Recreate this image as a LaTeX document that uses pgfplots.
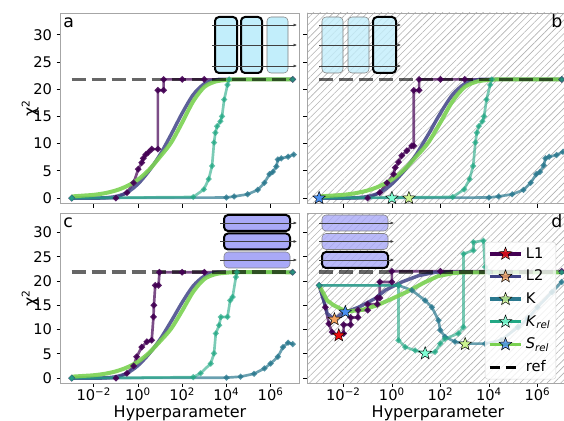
\documentclass[border=0pt]{standalone}
\usepackage{pgfplots}
\pgfplotsset{compat=1.18}
\usepackage{fontspec}
\setmainfont{DejaVu Sans}
\usetikzlibrary{patterns.meta, arrows.meta}

\definecolor{cL1}{HTML}{440154}
\definecolor{cL2}{HTML}{414487}
\definecolor{cK}{HTML}{2A788E}
\definecolor{cKr}{HTML}{22A884}
\definecolor{cSr}{HTML}{7AD151}
\definecolor{sRed}{HTML}{F01010}
\definecolor{sOrange}{HTML}{F4A460}
\definecolor{sLime}{HTML}{CCF590}
\definecolor{sAqua}{HTML}{7FFFD4}
\definecolor{sBlue}{HTML}{4A8FF0}
\definecolor{icy}{HTML}{C2EEFB}
\definecolor{lav}{HTML}{A9A9F7}

\pgfdeclareplotmark{fstar}{%
  \pgfpathmoveto{\pgfpointpolar{90}{\pgfplotmarksize}}%
  \pgfpathlineto{\pgfpointpolar{126}{0.42\pgfplotmarksize}}%
  \pgfpathlineto{\pgfpointpolar{162}{\pgfplotmarksize}}%
  \pgfpathlineto{\pgfpointpolar{198}{0.42\pgfplotmarksize}}%
  \pgfpathlineto{\pgfpointpolar{234}{\pgfplotmarksize}}%
  \pgfpathlineto{\pgfpointpolar{270}{0.42\pgfplotmarksize}}%
  \pgfpathlineto{\pgfpointpolar{306}{\pgfplotmarksize}}%
  \pgfpathlineto{\pgfpointpolar{342}{0.42\pgfplotmarksize}}%
  \pgfpathlineto{\pgfpointpolar{18}{\pgfplotmarksize}}%
  \pgfpathlineto{\pgfpointpolar{54}{0.42\pgfplotmarksize}}%
  \pgfpathclose\pgfusepathqfillstroke}

\pgfplotsset{
  panel/.style={scale only axis, anchor=south west,
    xmin=-3.5, xmax=7.3, ymin=-1, ymax=34,
    axis line style={draw=gray!70, line width=0.6pt},
    tick style={black, line width=0.6pt}, tick align=outside,
    major tick length=3pt,
    xtick={-2,0,2,4,6}, ytick={0,5,...,30},
    xtick pos=bottom, ytick pos=left,
    tick label style={font=\fontsize{11}{13}\selectfont},
    xticklabel style={yshift=3pt},
    label style={font=\fontsize{12}{14}\selectfont},
    xlabel style={yshift=3pt},
    ylabel shift=-11pt,
    /pgf/number format/assume math mode=true},
  hatched/.style={axis background/.style={pattern={Lines[angle=45,distance=3.6pt,line width=0.45pt]}, pattern color=gray!60}},
  sL1/.style={cL1, line width=2pt, draw opacity=0.7, mark=*, mark size=1.2pt, mark options={solid, draw opacity=0.9, fill opacity=0.9}},
  sL2/.style={cL2, line width=2.6pt, draw opacity=0.85},
  sK/.style={cK, line width=2pt, draw opacity=0.7, mark=*, mark size=1pt, mark options={solid, draw opacity=0.8, fill opacity=0.8}},
  sKr/.style={cKr, line width=2pt, draw opacity=0.6, mark=*, mark size=1pt, mark options={solid, draw opacity=0.7, fill opacity=0.7}},
  sSr/.style={cSr, line width=3pt, draw opacity=0.9},
  sRef/.style={black, draw opacity=0.6, line width=2.8pt, dash pattern=on 10.5pt off 4.5pt},
  star/.style={only marks, mark=fstar, mark size=5pt, mark options={draw=black, line width=0.35pt, fill=#1}},
  xlab/.style={xticklabels={10\textsuperscript{−2},10\textsuperscript{0},10\textsuperscript{2},10\textsuperscript{4},10\textsuperscript{6}}, xlabel={Hyperparameter}},
}

\begin{document}
\begin{tikzpicture}
\useasboundingbox (0,0) rectangle (423pt,315.75pt);
\clip (0,0) rectangle (423pt,315.75pt);

% ---------- panel a ----------
\begin{axis}[panel, at={(45.5pt,163.1pt)}, width=179pt, height=142.9pt,
  xticklabels={}, ylabel={χ\textsuperscript{2}}]
\addplot[sL1] coordinates {(-3,0) (-1,0) (-0.5,1.0) (-0.2,2.8) (0.01,5.3) (0.17,6.5) (0.24,7.3) (0.35,8.0) (0.47,8.4) (0.62,9.0) (0.9,9.0) (0.9,19.8) (1.16,19.8) (1.16,21.8) (2,21.8) (3,21.8) (7,21.8)};
\addplot[sL2, smooth, tension=0.5] coordinates {(-3,0) (-2,0) (-1.5,0.05) (-1,0.3) (-0.5,1.0) (0,2.6) (0.5,5.0) (1,8.0) (1.5,11.7) (2,15.6) (2.5,19.0) (3,21.0) (3.5,21.7) (4,21.8) (7,21.8)};
\addplot[sK] coordinates {(-3,0) (4,0.1) (4.35,0.3) (4.96,0.7) (5.42,1.5) (5.72,2.8) (5.95,4.4) (6.1,4.8) (6.26,5.8) (6.33,7.1) (6.48,7.3) (6.79,7.6) (7.05,8.0)};
\addplot[sKr] coordinates {(-3,0) (2.5,0.2) (2.98,1.6) (3.2,3.5) (3.35,5.9) (3.44,10.2) (3.5,12) (3.58,13.2) (3.73,14.1) (3.8,15) (3.9,18.1) (4.05,20.8) (4.12,21.8) (7,21.8)};
\addplot[sSr, smooth, tension=0.5] coordinates {(-3,0.3) (-2.5,0.45) (-2,0.6) (-1.5,0.9) (-1,1.4) (-0.5,2.2) (0,3.4) (0.5,5.2) (1,7.6) (1.5,10.2) (2,13.9) (2.5,17.8) (3,20.4) (3.5,21.4) (4,21.7) (4.5,21.8) (7,21.8)};
\addplot[sRef] coordinates {(-3,21.8) (7,21.8)};
\end{axis}

% ---------- panel b ----------
\begin{axis}[panel, hatched, at={(230.25pt,163.1pt)}, width=196.5pt, height=142.9pt,
  xticklabels={}, yticklabels={}]
\addplot[sL1] coordinates {(-3,0) (-1,0) (-0.5,1.0) (-0.2,2.8) (0.07,4.4) (0.14,5.6) (0.27,6.6) (0.41,7.8) (0.62,8.7) (0.82,9.6) (0.9,9.6) (0.9,19.8) (1.12,19.8) (1.12,21.8) (2,21.8) (3,21.8) (7,21.8)};
\addplot[sL2, smooth, tension=0.5] coordinates {(-3,0) (-2,0) (-1.5,0.05) (-1,0.3) (-0.5,1.0) (0,2.6) (0.5,5.0) (1,8.0) (1.5,11.7) (2,15.6) (2.5,19.0) (3,21.0) (3.5,21.7) (4,21.8) (7,21.8)};
\addplot[sK] coordinates {(-3,0) (4,0.1) (4.4,0.3) (4.96,0.7) (5.42,1.5) (5.72,2.8) (5.95,4.4) (6.1,4.8) (6.26,6.0) (6.33,7.3) (6.48,7.6) (6.79,7.9) (7.05,8.5)};
\addplot[sKr] coordinates {(-3,0) (2.5,0.2) (2.98,1.6) (3.2,3.5) (3.35,5.9) (3.44,10.2) (3.5,12) (3.58,13.2) (3.73,14.1) (3.8,15) (3.9,18.1) (4.05,20.8) (4.12,21.8) (7,21.8)};
\addplot[sSr, smooth, tension=0.5] coordinates {(-3,0.3) (-2.5,0.45) (-2,0.6) (-1.5,0.9) (-1,1.4) (-0.5,2.2) (0,3.4) (0.5,5.2) (1,7.6) (1.5,10.2) (2,13.9) (2.5,17.8) (3,20.4) (3.5,21.4) (4,21.7) (4.5,21.8) (7,21.8)};
\addplot[sRef] coordinates {(-3,21.8) (7.3,21.8)};
\addplot[star=sBlue] coordinates {(-3,0)};
\addplot[star=sAqua] coordinates {(0,0)};
\addplot[star=sLime] coordinates {(0.7,0)};
\end{axis}

% ---------- panel c ----------
\begin{axis}[panel, at={(45.5pt,28.5pt)}, width=179pt, height=127.5pt,
  xlab, ylabel={χ\textsuperscript{2}}]
\addplot[sL1] coordinates {(-3,0) (-1,0) (-0.5,1.0) (-0.2,2.5) (-0.06,4.4) (0.17,6.4) (0.4,7.5) (0.62,7.8) (0.7,12.6) (0.72,15) (0.78,19.1) (0.93,19.1) (0.97,21.8) (2,21.8) (3,21.8) (7,21.8)};
\addplot[sL2, smooth, tension=0.5] coordinates {(-3,0) (-2,0) (-1.5,0.05) (-1,0.3) (-0.5,1.0) (0,2.6) (0.5,5.0) (1,8.0) (1.5,11.7) (2,15.6) (2.5,19.0) (3,21.0) (3.5,21.7) (4,21.8) (7,21.8)};
\addplot[sK] coordinates {(-3,0) (4,0.1) (4.64,0.3) (5.25,0.9) (5.72,2) (6.0,3) (6.33,4.4) (6.56,6.4) (6.79,7.3) (7.0,7.0)};
\addplot[sKr] coordinates {(-3,0) (2.5,0.2) (2.83,1.0) (3.29,3.0) (3.44,5.1) (3.52,9.2) (3.67,10.9) (3.75,12.6) (4.05,12.6) (4.17,16) (4.28,16.7) (4.43,20.8) (4.47,21.8) (7,21.8)};
\addplot[sSr, smooth, tension=0.5] coordinates {(-3,0.3) (-2.5,0.45) (-2,0.6) (-1.5,0.9) (-1,1.4) (-0.5,2.2) (0,3.4) (0.5,5.2) (1,7.6) (1.5,10.2) (2,13.9) (2.5,17.8) (3,20.4) (3.5,21.4) (4,21.7) (4.5,21.8) (7,21.8)};
\addplot[sRef] coordinates {(-3,21.8) (7,21.8)};
\end{axis}

% ---------- panel d ----------
\begin{axis}[panel, hatched, at={(230.25pt,28.5pt)}, width=196.5pt, height=127.5pt,
  xlab, yticklabels={},
  legend style={at={(0.679,0.83)}, anchor=north west, font=\fontsize{11}{13}\selectfont,
    draw=gray!30, rounded corners=2pt, fill=white, fill opacity=0.8, text opacity=1,
    row sep=3.4pt, inner sep=2pt, cells={anchor=west}},
  legend image code/.code={\draw[#1, mark repeat=2, mark phase=2] plot coordinates {(0cm,0cm) (0.42cm,0cm) (0.84cm,0cm)};}]
\addplot[sL1, forget plot] coordinates {(-3,19.1) (-2.74,14.6) (-2.6,11.2) (-2.47,9.5) (-2.19,8.8) (-1.99,9.2) (-1.99,11) (-1.7,11) (-1.7,12.5) (-1.4,12.5) (-1.4,14) (-1.0,14) (-1.0,15.2) (-0.6,15.2) (-0.6,16.5) (-0.5,16.5) (-0.5,19.8) (0,19.8) (0,22) (2,22) (7,22)};
\addplot[sL2, forget plot] coordinates {(-3,19.1) (-2.81,16) (-2.67,13.3) (-2.37,12.1) (-2.06,13.3) (-1.37,14.6) (-0.69,16.4) (-0.27,18.1) (0.41,19.8) (1.1,21.1) (1.78,21.8) (7,21.8)};
\addplot[sK, forget plot] coordinates {(-3,19.1) (0.27,19.1) (0.82,18.1) (1.37,16) (1.65,14.6) (1.92,11.9) (1.99,9.9) (2.19,8.5) (2.6,7.5) (3.02,7.1) (3.84,7.1) (4.5,7.8) (5.2,10.5) (5.6,12.3) (6.0,14.6) (6.6,17.7) (7.0,19.8)};
\addplot[sKr, forget plot] coordinates {(-3,19.1) (0.27,19.1) (0.27,7.8) (0.55,6.4) (0.96,5.7) (1.37,5.2) (1.78,5.4) (1.99,7.1) (2.19,8.1) (2.74,9.2) (2.95,10.5) (2.95,25.6) (3.36,26.3) (3.36,28) (3.77,28.3) (3.84,22.9) (4.0,21.8) (7,21.8)};
\addplot[sSr, forget plot] coordinates {(-3,19.1) (-2.67,16.0) (-2.4,15.0) (-2.12,14.3) (-1.92,13.8) (-1.71,13.8) (-1.18,14.1) (-0.61,15.0) (-0.06,16.2) (0.63,17.8) (1.3,19.6) (1.9,21.0) (2.5,21.6) (3,21.8) (7,21.8)};
\addplot[sRef, forget plot] coordinates {(-3,21.8) (7.3,21.8)};
\addplot[star=sRed, forget plot] coordinates {(-2.19,8.8)};
\addplot[star=sOrange, forget plot] coordinates {(-2.37,12.1)};
\addplot[star=sLime, forget plot] coordinates {(3.02,7.0)};
\addplot[star=sAqua, forget plot] coordinates {(1.37,5.1)};
\addplot[star=sBlue, forget plot] coordinates {(-1.92,13.6)};
\addlegendimage{cL1, line width=2.6pt, mark=fstar, mark size=5pt, mark options={draw=black, line width=0.35pt, fill=sRed}}
\addlegendentry{L1}
\addlegendimage{cL2, line width=2.6pt, mark=fstar, mark size=5pt, mark options={draw=black, line width=0.35pt, fill=sOrange}}
\addlegendentry{L2}
\addlegendimage{cK, line width=2.6pt, mark=fstar, mark size=5pt, mark options={draw=black, line width=0.35pt, fill=sLime}}
\addlegendentry{K}
\addlegendimage{cKr, line width=2.6pt, mark=fstar, mark size=5pt, mark options={draw=black, line width=0.35pt, fill=sAqua}}
\addlegendentry{\textit{K}\textsubscript{\textit{rel}}}
\addlegendimage{cSr, line width=2.6pt, mark=fstar, mark size=5pt, mark options={draw=black, line width=0.35pt, fill=sBlue}}
\addlegendentry{\textit{S}\textsubscript{\textit{rel}}}
\addlegendimage{black, line width=2.6pt, dash pattern=on 8pt off 4pt}
\addlegendentry{ref}
\end{axis}

% ---------- icons and panel letters (pixel coordinates) ----------
\begin{scope}[x=0.75pt, y=-0.75pt, yshift=315.75pt]
  % a
  \filldraw[fill=icy, draw=black, line width=1.5pt, rounded corners=3pt] (215,17) rectangle (237,73);
  \filldraw[fill=icy, draw=black, line width=1.5pt, rounded corners=3pt] (241,17) rectangle (262,73);
  \filldraw[fill=icy, draw=gray, line width=0.4pt, rounded corners=3pt] (267,17) rectangle (288,73);
  \foreach \yy in {25,45,66} \draw[black!75, line width=0.4pt, -{Latex[length=2.5pt,width=2.2pt]}] (212,\yy) -- (297,\yy);
  % b
  \filldraw[fill=icy, fill opacity=0.8, draw=gray, line width=0.4pt, rounded corners=3pt] (322,17) rectangle (343,73);
  \filldraw[fill=icy, fill opacity=0.8, draw=gray, line width=0.4pt, rounded corners=3pt] (348,17) rectangle (369,73);
  \filldraw[fill=icy, fill opacity=0.8, draw=black, line width=1.5pt, rounded corners=3pt] (373,17) rectangle (396,73);
  \foreach \yy in {25,45,66} \draw[black!75, line width=0.4pt, -{Latex[length=2.5pt,width=2.2pt]}] (319,\yy) -- (401,\yy);
  % c
  \filldraw[fill=lav, draw=black, line width=1.5pt, rounded corners=3pt] (224,215) rectangle (290,231);
  \filldraw[fill=lav, draw=black, line width=1.5pt, rounded corners=3pt] (224,233.5) rectangle (290,249.5);
  \filldraw[fill=lav, draw=gray, line width=0.4pt, rounded corners=3pt] (224,252) rectangle (290,268);
  \foreach \yy in {223,241.5,260} \draw[black!75, line width=0.4pt, -{Latex[length=2.5pt,width=2.2pt]}] (220,\yy) -- (297,\yy);
  % d
  \filldraw[fill=lav, fill opacity=0.8, draw=gray, line width=0.4pt, rounded corners=3pt] (322,215) rectangle (388,231);
  \filldraw[fill=lav, fill opacity=0.8, draw=gray, line width=0.4pt, rounded corners=3pt] (322,233.5) rectangle (388,249.5);
  \filldraw[fill=lav, fill opacity=0.8, draw=black, line width=1.5pt, rounded corners=3pt] (322,252) rectangle (388,268);
  \foreach \yy in {223,241.5,260} \draw[black!75, line width=0.4pt, -{Latex[length=2.5pt,width=2.2pt]}] (319,\yy) -- (394,\yy);
  % letters
  \node[anchor=base west, inner sep=0pt, font=\fontsize{13}{15}\selectfont] at (63,27.5) {a};
  \node[anchor=base west, inner sep=0pt, font=\fontsize{13}{15}\selectfont] at (551,27.5) {b};
  \node[anchor=base west, inner sep=0pt, font=\fontsize{13}{15}\selectfont] at (63,227.5) {c};
  \node[anchor=base west, inner sep=0pt, font=\fontsize{13}{15}\selectfont] at (551,227.5) {d};
\end{scope}
\end{tikzpicture}
\end{document}
